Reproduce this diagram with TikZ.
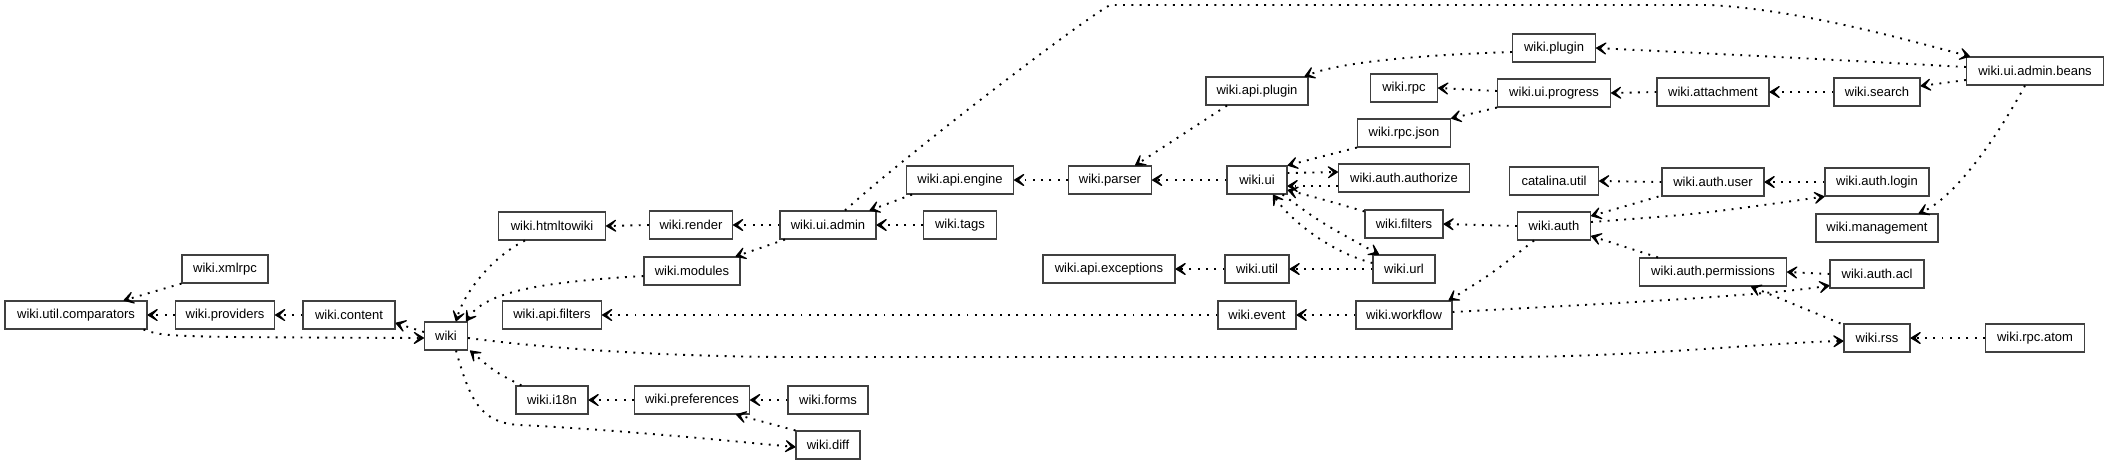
\documentclass[tikz,border=0pt]{standalone}
\usepackage{fontspec}
\setmainfont{Liberation Sans}
\usetikzlibrary{arrows.meta}
\begin{document}
\begin{tikzpicture}[x=1pt,y=-1pt,
  pkg/.style={draw=black!75, line width=1.1pt, fill=white, minimum height=28pt, inner xsep=1pt, inner ysep=0pt, font=\fontsize{13}{15}\selectfont},
  dep/.style={line width=1.9pt, dash pattern=on 1.9pt off 6.4pt, -{Stealth[length=14pt,width=17pt,inset=8.5pt,line width=1.2pt,round]}},
]
\useasboundingbox (0,0) rectangle (2109,464);
% nodes
\node[pkg, minimum width=142pt] (comparators) at (76,315) {wiki.util.comparators};
\node[pkg, minimum width=86pt] (xmlrpc) at (225,269) {wiki.xmlrpc};
\node[pkg, minimum width=99pt] (providers) at (225,315) {wiki.providers};
\node[pkg, minimum width=92pt] (content) at (349,315) {wiki.content};
\node[pkg, minimum width=43pt] (wiki) at (446,336) {wiki};
\node[pkg, minimum width=107pt] (htmltowiki) at (552,226) {wiki.htmltowiki};
\node[pkg, minimum width=99pt] (apifilters) at (552,315) {wiki.api.filters};
\node[pkg, minimum width=72pt] (i18n) at (552,400) {wiki.i18n};
\node[pkg, minimum width=83pt] (render) at (691,225) {wiki.render};
\node[pkg, minimum width=96pt] (modules) at (692,271) {wiki.modules};
\node[pkg, minimum width=115pt] (preferences) at (692,400) {wiki.preferences};
\node[pkg, minimum width=96pt] (uiadmin) at (828,225) {wiki.ui.admin};
\node[pkg, minimum width=80pt] (forms) at (828,400) {wiki.forms};
\node[pkg, minimum width=64pt] (diff) at (828,445) {wiki.diff};
\node[pkg, minimum width=107pt] (apiengine) at (960,180) {wiki.api.engine};
\node[pkg, minimum width=73pt] (tags) at (960,225) {wiki.tags};
\node[pkg, minimum width=83pt] (parser) at (1110,180) {wiki.parser};
\node[pkg, minimum width=132pt] (apiexceptions) at (1109,269) {wiki.api.exceptions};
\node[pkg, minimum width=102pt] (apiplugin) at (1257,91) {wiki.api.plugin};
\node[pkg, minimum width=60pt] (ui) at (1257,180) {wiki.ui};
\node[pkg, minimum width=64pt] (util) at (1257,269) {wiki.util};
\node[pkg, minimum width=78pt] (event) at (1257,315) {wiki.event};
\node[pkg, minimum width=67pt] (rpc) at (1404,88) {wiki.rpc};
\node[pkg, minimum width=93pt] (rpcjson) at (1404,133) {wiki.rpc.json};
\node[pkg, minimum width=131pt] (authorize) at (1404,178) {wiki.auth.authorize};
\node[pkg, minimum width=78pt] (filters) at (1404,224) {wiki.filters};
\node[pkg, minimum width=62pt] (url) at (1404,269) {wiki.url};
\node[pkg, minimum width=96pt] (workflow) at (1404,315) {wiki.workflow};
\node[pkg, minimum width=83pt] (plugin) at (1554,48) {wiki.plugin};
\node[pkg, minimum width=113pt] (progress) at (1554,93) {wiki.ui.progress};
\node[pkg, minimum width=89pt] (catalina) at (1554,181) {catalina.util};
\node[pkg, minimum width=73pt] (auth) at (1554,226) {wiki.auth};
\node[pkg, minimum width=112pt] (attachment) at (1713,92) {wiki.attachment};
\node[pkg, minimum width=102pt] (authuser) at (1713,182) {wiki.auth.user};
\node[pkg, minimum width=147pt] (permissions) at (1713,272) {wiki.auth.permissions};
\node[pkg, minimum width=137pt] (beans) at (2035,71) {wiki.ui.admin.beans};
\node[pkg, minimum width=86pt] (search) at (1877,92) {wiki.search};
\node[pkg, minimum width=104pt] (login) at (1877,182) {wiki.auth.login};
\node[pkg, minimum width=122pt] (management) at (1877,228) {wiki.management};
\node[pkg, minimum width=94pt] (acl) at (1877,274) {wiki.auth.acl};
\node[pkg, minimum width=66pt] (rss) at (1877,338) {wiki.rss};
\node[pkg, minimum width=99pt] (atom) at (2035,338) {wiki.rpc.atom};
% edges
\draw[dep] (xmlrpc.south west) -- ([xshift=-24pt]comparators.north east);
\draw[dep] (providers.west) -- (comparators.east);
\draw[dep] (content.west) -- (providers.east);
\draw[dep] ([xshift=-4pt]comparators.south east) .. controls (165,337) .. ([yshift=-2pt]wiki.west);
\draw[dep] ([yshift=4pt]wiki.west) -- ([yshift=-8pt]content.east);
\draw[dep] ([xshift=-27pt]htmltowiki.south) .. controls (495,255) and (465,290) .. ([xshift=10pt]wiki.north);
\draw[dep] ([yshift=-5pt]modules.west) .. controls (540,282) and (485,292) .. ([xshift=-2pt]wiki.north east);
\draw[dep] ([xshift=-43pt]uiadmin.south) -- ([xshift=-5pt]modules.north east);
\draw[dep] (render.west) -- (htmltowiki.east);
\draw[dep] (uiadmin.west) -- (render.east);
\draw[dep] (tags.west) -- (uiadmin.east);
\draw[dep] ([xshift=-48pt]apiengine.south) -- ([xshift=-7pt]uiadmin.north east);
\draw[dep] ([xshift=17pt]uiadmin.north) .. controls (900,160) and (1075,25) .. (1110,5) -- (1710,5) .. controls (1800,10) and (1900,38) .. ([xshift=4pt]beans.north west);
\draw[dep] (parser.west) -- (apiengine.east);
\draw[dep] ([xshift=-30pt]apiplugin.south) -- ([xshift=-17pt]parser.north east);
\draw[dep] (ui.west) -- (parser.east);
\draw[dep] ([yshift=-4pt]plugin.west) .. controls (1420,55) and (1340,62) .. ([xshift=-4pt]apiplugin.north east);
\draw[dep] ([yshift=4pt]beans.west) .. controls (1800,58) .. (plugin.east);
\draw[dep] ([yshift=2pt]progress.west) -- (rpc.east);
\draw[dep] (progress.south west) -- (rpcjson.north east);
\draw[dep] (attachment.west) -- (progress.east);
\draw[dep] (search.west) -- (attachment.east);
\draw[dep] ([yshift=-9pt]beans.west) -- ([yshift=6pt]search.east);
\draw[dep] (rpcjson.south west) .. controls (1316,158) .. (ui.north east);
\draw[dep] ([yshift=7pt]ui.east) -- ([yshift=6pt]authorize.west);
\draw[dep] ([yshift=-8pt]authorize.west) -- ([yshift=-6pt]ui.east);
\draw[dep] ([yshift=-2pt]filters.north west) .. controls (1325,200) .. ([yshift=-10pt]ui.east);
\draw[dep] ([yshift=6pt]url.west) .. controls (1330,252) and (1290,220) .. ([xshift=16pt]ui.south);
\draw[dep] ([xshift=-5pt]ui.south east) .. controls (1320,222) .. ([xshift=-25pt]url.north);
\draw[dep] (url.west) -- (util.east);
\draw[dep] (util.west) -- (apiexceptions.east);
\draw[dep] (workflow.west) -- (event.east);
\draw[dep] (event.west) -- (apifilters.east);
\draw[dep] (auth.west) -- (filters.east);
\draw[dep] ([xshift=-20pt]auth.south) .. controls (1490,275) .. ([xshift=-4pt]workflow.north east);
\draw[dep] ([yshift=3pt]workflow.east) .. controls (1620,303) and (1760,296) .. ([yshift=3pt]acl.south west);
\draw[dep] (authuser.west) -- (catalina.east);
\draw[dep] (login.west) -- (authuser.east);
\draw[dep] ([xshift=-3pt]authuser.south west) -- ([yshift=10pt]auth.east);
\draw[dep] ([yshift=4pt]auth.east) .. controls (1700,214) .. (login.south west);
\draw[dep] ([xshift=-55pt]permissions.north) -- ([yshift=-10pt]auth.east);
\draw[dep] (acl.west) -- (permissions.east);
\draw[dep] ([xshift=-3pt]rss.north west) -- ([xshift=38pt]permissions.south);
\draw[dep] (atom.west) -- (rss.east);
\draw[dep] ([yshift=-2pt]wiki.east) .. controls (560,350) and (680,357) .. (800,357) -- (1500,357) .. controls (1640,357) and (1760,343) .. ([yshift=-3pt]rss.west);
\draw[dep] ([xshift=-10pt]beans.south) .. controls (1990,150) and (1950,200) .. ([xshift=-20pt]management.north east);
\draw[dep] (forms.west) -- (preferences.east);
\draw[dep] (preferences.west) -- (i18n.east);
\draw[dep] ([xshift=6pt]i18n.north west) .. controls (495,372) .. ([xshift=2pt]wiki.south east);
\draw[dep] ([xshift=10pt]wiki.south) .. controls (470,400) and (480,423) .. (520,425) .. controls (620,430) and (720,440) .. ([yshift=-2pt]diff.west);
\draw[dep] (diff.north west) -- ([xshift=-14pt]preferences.south east);
\end{tikzpicture}
\end{document}
